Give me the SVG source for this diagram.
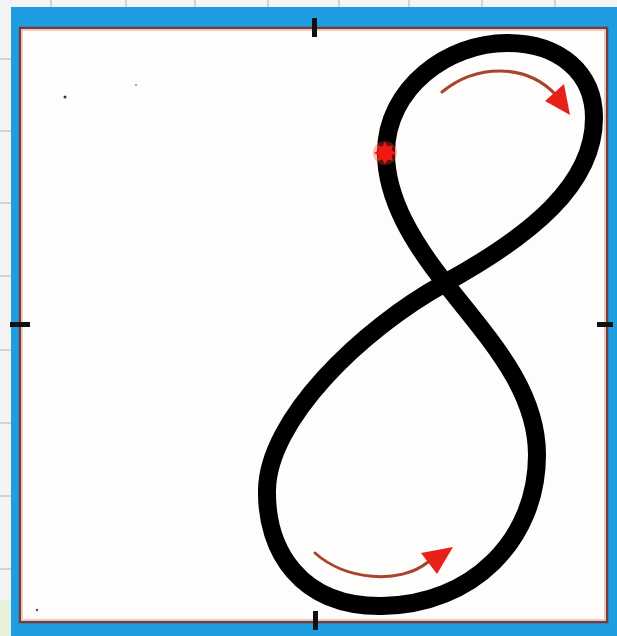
<svg xmlns="http://www.w3.org/2000/svg" width="617" height="636" viewBox="0 0 617 636">
  <style>
    .grid { stroke: #c8c8c8; stroke-width: 1.5; }
    .tick { fill: #111111; }
    .eight { fill: none; stroke: #000000; stroke-width: 18; stroke-linejoin: round; }
    .arc { fill: none; stroke: #a8432c; stroke-width: 3; stroke-linecap: round; }
    .head { fill: #e8201a; }
  </style>
  <g id="background">
    <rect x="0" y="0" width="617" height="636" fill="#f4f4f4"/>
    <rect x="0" y="600" width="11" height="36" fill="#e6f2dc"/>
    <g class="grid">
      <line x1="51" y1="0" x2="51" y2="7"/>
      <line x1="126" y1="0" x2="126" y2="7"/>
      <line x1="195" y1="0" x2="195" y2="7"/>
      <line x1="268" y1="0" x2="268" y2="7"/>
      <line x1="339" y1="0" x2="339" y2="7"/>
      <line x1="409" y1="0" x2="409" y2="7"/>
      <line x1="482" y1="0" x2="482" y2="7"/>
      <line x1="555" y1="0" x2="555" y2="7"/>
      <line x1="0" y1="59" x2="11" y2="59"/>
      <line x1="0" y1="131" x2="11" y2="131"/>
      <line x1="0" y1="203" x2="11" y2="203"/>
      <line x1="0" y1="276" x2="11" y2="276"/>
      <line x1="0" y1="350" x2="11" y2="350"/>
      <line x1="0" y1="423" x2="11" y2="423"/>
      <line x1="0" y1="496" x2="11" y2="496"/>
      <line x1="0" y1="569" x2="11" y2="569"/>
    </g>
    <rect x="11" y="7" width="606" height="629" fill="#1f9de2"/>
    <rect x="20" y="28" width="587" height="594" fill="#fffdfb" stroke="#7a3a35" stroke-width="2.5"/>
    <rect x="22.5" y="30.5" width="582" height="589" fill="none" stroke="#f2c8c0" stroke-width="1"/>
    <circle cx="65" cy="97" r="1.5" fill="#333333"/>
    <circle cx="136" cy="85" r="1.2" fill="#aaaaaa"/>
    <circle cx="37" cy="610" r="1.2" fill="#555555"/>
  </g>
  <g id="ticks">
    <rect class="tick" x="312" y="18" width="5" height="19"/>
    <rect class="tick" x="313" y="611" width="5" height="19"/>
    <rect class="tick" x="10" y="322" width="20" height="5"/>
    <rect class="tick" x="597" y="322" width="16" height="5"/>
  </g>
  <g id="figure-eight">
    <path class="eight" d="M 386,153 C 386,200 415,245 445,283 C 490,340 537,390 537,455 C 537,540 472,605 382,606 C 300,607 266,550 267,490 C 268,420 360,330 445,283 C 530,236 594,185 594,118 C 594,73 560,43 507,43 C 448,43 386,88 386,153 Z"/>
  </g>
  <g id="start-point">
    <circle cx="385" cy="153" r="12" fill="#ff3a2a" opacity="0.35"/>
    <polygon fill="#ee1c14" points="396,153 391.5,155.7 392.8,160.8 387.7,159.5 385,164 382.3,159.5 377.2,160.8 378.5,155.7 374,153 378.5,150.3 377.2,145.2 382.3,146.5 385,142 387.7,146.5 392.8,145.2 391.5,150.3"/>
    <circle cx="385" cy="153" r="7" fill="#f01a12"/>
  </g>
  <g id="arrow-top">
    <path class="arc" d="M 442,92 C 475,65 525,62 556,95"/>
    <polygon class="head" points="570,115 545,101 564,84"/>
  </g>
  <g id="arrow-bottom">
    <path class="arc" d="M 315,553 C 345,580 400,585 428,562"/>
    <polygon class="head" points="453,547 421,553 437,574"/>
  </g>
</svg>
